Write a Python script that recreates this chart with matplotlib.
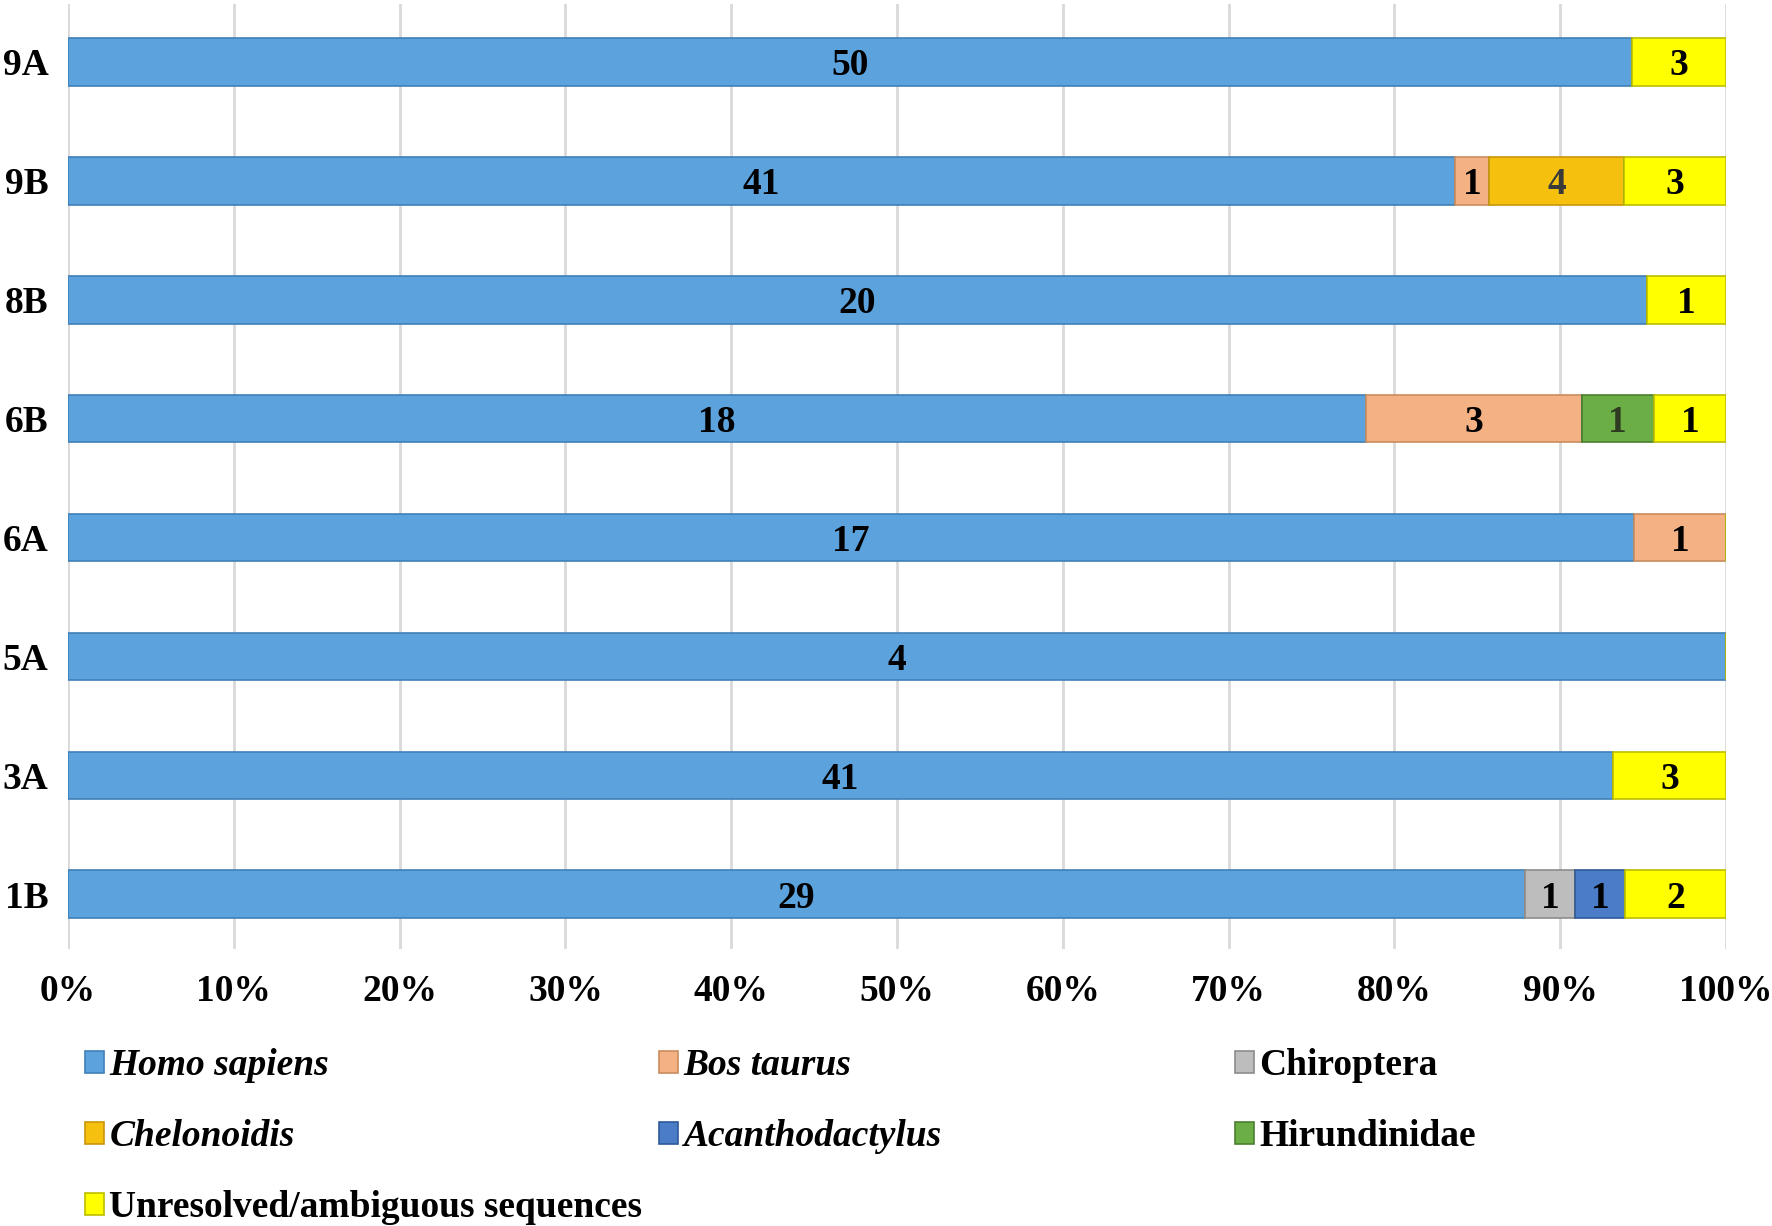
import numpy as np
import matplotlib.pyplot as plt
from matplotlib.patches import Patch

plt.rcParams['font.family'] = ['Liberation Serif', 'DejaVu Serif']
plt.rcParams['font.weight'] = 'bold'

samples = ["1B", "3A", "5A", "6A", "6B", "8B", "9B", "9A"]
taxa = ["Homo sapiens", "Bos taurus", "Chiroptera", "Chelonoidis",
        "Acanthodactylus", "Hirundinidae", "Unresolved/ambiguous sequences"]
italic_taxa = ["Homo sapiens", "Bos taurus", "Chelonoidis", "Acanthodactylus"]

# read counts per sample, in the order of samples
homo_sapiens = [29, 41, 4, 17, 18, 20, 41, 50]
bos_taurus = [0, 0, 0, 1, 3, 0, 1, 0]
chiroptera = [1, 0, 0, 0, 0, 0, 0, 0]
chelonoidis = [0, 0, 0, 0, 0, 0, 4, 0]
acanthodactylus = [1, 0, 0, 0, 0, 0, 0, 0]
hirundinidae = [0, 0, 0, 0, 1, 0, 0, 0]
unresolved = [2, 3, 0, 0, 1, 1, 3, 3]

colors = ["#5CA3DE", "#F4B183", "#BDBDBD", "#F5C10E", "#4A7CC8", "#6AAE45", "#FFFF00"]
edges = ["#3F7FB8", "#C98C5E", "#8C8C8C", "#C9960A", "#2F5A9A", "#4C7F30", "#BDBD00"]
label_colors = ["black", "black", "black", "#3A3A3A", "black", "#2E3A22", "black"]

counts = np.array([homo_sapiens, bos_taurus, chiroptera, chelonoidis,
                   acanthodactylus, hirundinidae, unresolved], dtype=float)
totals = counts.sum(axis=0)
pct = counts / totals * 100

fig = plt.figure(figsize=(17.72, 12.26), dpi=100)
ax = fig.add_axes([0.0384, 0.226, 0.9356, 0.771])

y = np.arange(len(samples))
left = np.zeros(len(samples))
handles = []
for i, taxon in enumerate(taxa):
    bars = ax.barh(y, pct[i], left=left, height=0.4, color=colors[i],
                   edgecolor=edges[i], linewidth=1.2, zorder=3)
    for j, b in enumerate(bars):
        if counts[i, j] > 0:
            ax.text(left[j] + pct[i, j] / 2, y[j], str(int(counts[i, j])),
                    ha='center', va='center_baseline', fontsize=27,
                    fontweight='bold', color=label_colors[i], zorder=4)
    left += pct[i]
    handles.append(Patch(facecolor=colors[i], edgecolor=edges[i], linewidth=1.2))

ax.set_xlim(0, 100)
ax.set_ylim(-0.46, 7.49)
ax.set_xticks(np.arange(0, 101, 10))
ax.set_xticklabels([f"{v}%" for v in range(0, 101, 10)], fontsize=27, fontweight='bold')
ax.set_yticks(y)
ax.set_yticklabels(samples, fontsize=27, fontweight='bold')
ax.tick_params(length=0, pad=14)
ax.tick_params(axis='x', pad=18)
ax.grid(axis='x', color='#D9D9D9', linewidth=2, zorder=0)
for s in ax.spines.values():
    s.set_visible(False)

# legend laid out row by row in three equal-width columns
cols = [[0, 3, 6], [1, 4], [2, 5]]
xs = [0.048, 0.372, 0.697]
for col, x0 in zip(cols, xs):
    leg = fig.legend([handles[k] for k in col], [taxa[k] for k in col],
                     loc='upper left', bbox_to_anchor=(x0, 0.145),
                     frameon=False, fontsize=27, borderpad=0, borderaxespad=0,
                     handlelength=0.5, handleheight=0.5, handletextpad=0.15,
                     labelspacing=0.96)
    for t in leg.get_texts():
        t.set_fontweight('bold')
        if t.get_text() in italic_taxa:
            t.set_fontstyle('italic')

fig.savefig("out.png", dpi=100)
